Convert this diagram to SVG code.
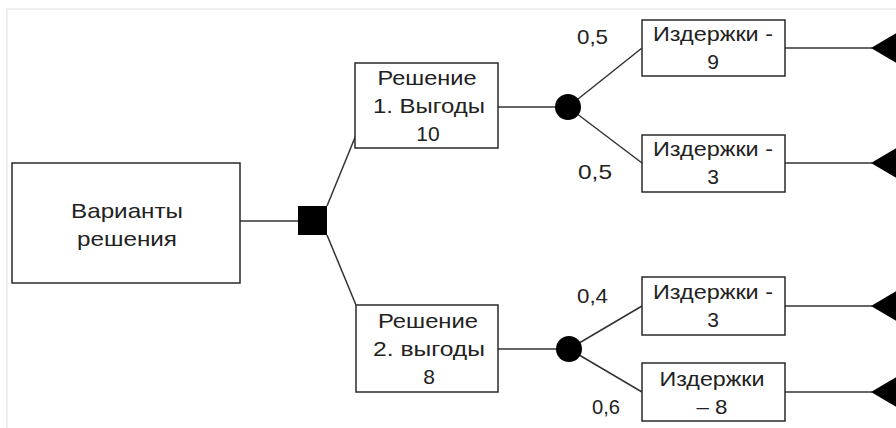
<svg xmlns="http://www.w3.org/2000/svg" width="896" height="428" viewBox="0 0 896 428">
<style>
.box{fill:#fff;stroke:#2a2a2a;stroke-width:1.5}
.ln{stroke:#333;stroke-width:1.5;fill:none}
text{font-family:"Liberation Sans",Arial,sans-serif;font-size:21px;fill:#222;text-anchor:middle}
.p{text-anchor:start}
.dot{fill:#000}
</style>
<rect x="0" y="0" width="896" height="428" fill="#fff"/>
<path d="M7,430 V9 H900" fill="none" stroke="#efefef" stroke-width="2"/>
<g id="connectors">
<line class="ln" x1="240" y1="221" x2="298" y2="221"/>
<line class="ln" x1="327" y1="206" x2="356" y2="135"/>
<line class="ln" x1="327" y1="235" x2="356" y2="305"/>
<line class="ln" x1="498" y1="107" x2="568" y2="107"/>
<line class="ln" x1="568" y1="107" x2="642" y2="48"/>
<line class="ln" x1="568" y1="107" x2="642" y2="163"/>
<line class="ln" x1="498" y1="349" x2="569" y2="349"/>
<line class="ln" x1="569" y1="349" x2="642" y2="306"/>
<line class="ln" x1="569" y1="349" x2="642" y2="392"/>
<line class="ln" x1="785" y1="48" x2="872" y2="48"/>
<line class="ln" x1="785" y1="163" x2="872" y2="163"/>
<line class="ln" x1="785" y1="306" x2="872" y2="306"/>
<line class="ln" x1="785" y1="392" x2="872" y2="392"/>
</g>
<g id="root">
<rect class="box" x="12" y="163" width="228" height="120"/>
<text x="127" y="218" textLength="112" lengthAdjust="spacingAndGlyphs">Варианты</text>
<text x="127" y="246" textLength="100" lengthAdjust="spacingAndGlyphs">решения</text>
</g>
<g id="decision">
<rect class="dot" x="298" y="206" width="29" height="29"/>
</g>
<g id="option1">
<rect class="box" x="355" y="63" width="143" height="85"/>
<text x="427" y="85" textLength="99" lengthAdjust="spacingAndGlyphs">Решение</text>
<text x="429" y="113" textLength="112" lengthAdjust="spacingAndGlyphs">1. Выгоды</text>
<text x="428" y="141">10</text>
</g>
<g id="option2">
<rect class="box" x="356" y="305" width="142" height="87"/>
<text x="428" y="328" textLength="100" lengthAdjust="spacingAndGlyphs">Решение</text>
<text x="429" y="356" textLength="112" lengthAdjust="spacingAndGlyphs">2. выгоды</text>
<text x="429" y="384">8</text>
</g>
<g id="chance1">
<circle class="dot" cx="568" cy="107" r="13"/>
</g>
<g id="chance2">
<circle class="dot" cx="569" cy="349" r="13"/>
</g>
<g id="probs">
<text class="p" x="577" y="44" textLength="31" lengthAdjust="spacingAndGlyphs">0,5</text>
<text class="p" x="578" y="179" textLength="34" lengthAdjust="spacingAndGlyphs">0,5</text>
<text class="p" x="577" y="303" textLength="31" lengthAdjust="spacingAndGlyphs">0,4</text>
<text class="p" x="592" y="414" textLength="28" lengthAdjust="spacingAndGlyphs">0,6</text>
</g>
<g id="cost1">
<rect class="box" x="642" y="20" width="143" height="56"/>
<text x="713" y="41" textLength="120" lengthAdjust="spacingAndGlyphs">Издержки -</text>
<text x="713" y="69">9</text>
</g>
<g id="cost2">
<rect class="box" x="642" y="135" width="143" height="57"/>
<text x="713" y="156" textLength="120" lengthAdjust="spacingAndGlyphs">Издержки -</text>
<text x="713" y="184">3</text>
</g>
<g id="cost3">
<rect class="box" x="642" y="277" width="143" height="58"/>
<text x="713" y="299" textLength="120" lengthAdjust="spacingAndGlyphs">Издержки -</text>
<text x="713" y="327">3</text>
</g>
<g id="cost4">
<rect class="box" x="642" y="363" width="143" height="58"/>
<text x="712" y="386" textLength="105" lengthAdjust="spacingAndGlyphs">Издержки</text>
<text x="712" y="414" textLength="31" lengthAdjust="spacingAndGlyphs">– 8</text>
</g>
<g id="end1"><polygon class="dot" points="871,48 900,31 900,65"/></g>
<g id="end2"><polygon class="dot" points="871,163 900,146 900,180"/></g>
<g id="end3"><polygon class="dot" points="871,306 900,289 900,323"/></g>
<g id="end4"><polygon class="dot" points="871,392 900,375 900,409"/></g>
</svg>
